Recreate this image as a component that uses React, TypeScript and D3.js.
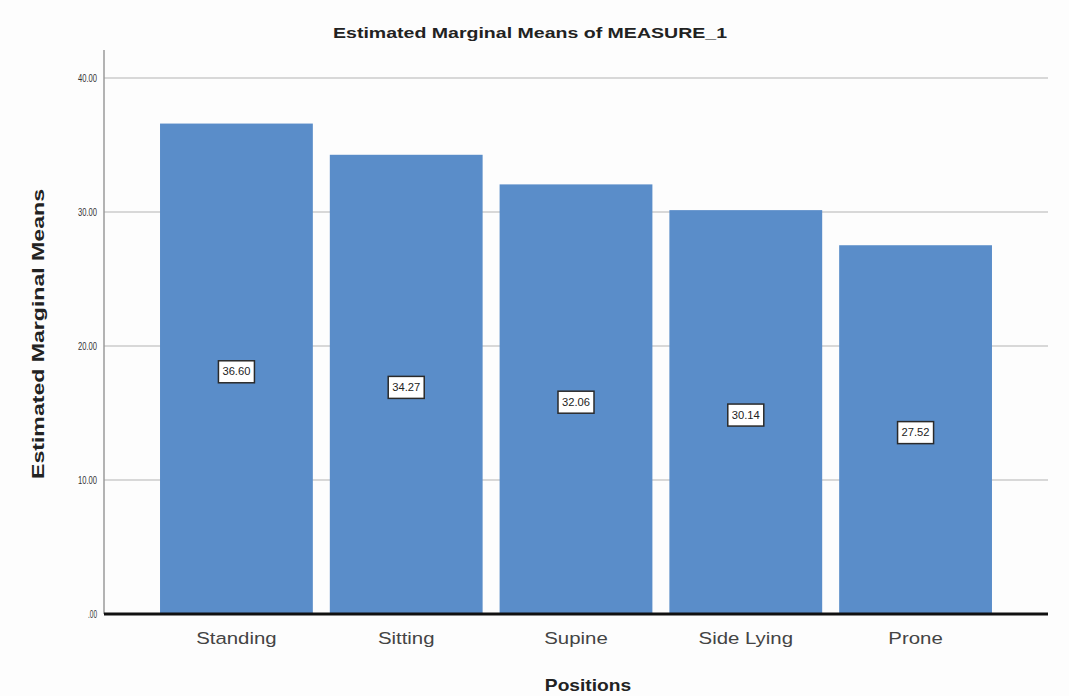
import React from 'react';
import * as d3 from 'd3';

const positions = ['Standing', 'Sitting', 'Supine', 'Side Lying', 'Prone'];
const means = [36.6, 34.27, 32.06, 30.14, 27.52];
const meanLabels = ['36.60', '34.27', '32.06', '30.14', '27.52'];
const yTicks = [0, 10, 20, 30, 40];
const yTickLabels = ['.00', '10.00', '20.00', '30.00', '40.00'];

const W = 1069;
const H = 696;
const margin = { top: 50, right: 21, bottom: 82, left: 104 };

const App: React.FC = () => {
  const x = d3.scaleBand<string>()
    .domain(positions)
    .range([margin.left, W - margin.right])
    .paddingInner(0.1)
    .paddingOuter(0.33);

  const y = d3.scaleLinear()
    .domain([0, 40])
    .range([H - margin.bottom, 78]);

  const font = '"Liberation Sans", Arial, sans-serif';

  return (
    <svg width={W} height={H} style={{ position: 'absolute', left: 0, top: 0, background: '#fdfdfd' }}>
      <text x={530} y={38} textAnchor="middle" fontFamily={font} fontWeight="bold" fontSize={15}
        textLength={394} lengthAdjust="spacingAndGlyphs" fill="#222">
        Estimated Marginal Means of MEASURE_1
      </text>

      {/* gridlines */}
      {yTicks.filter(t => t > 0).map(t => (
        <line key={t} x1={margin.left} x2={W - margin.right} y1={y(t)} y2={y(t)}
          stroke="#d8d8d8" strokeWidth={2} />
      ))}

      {/* y axis line */}
      <line x1={margin.left} x2={margin.left} y1={margin.top} y2={y(0)} stroke="#9a9a9a" strokeWidth={1.5} />

      {yTicks.map((t, i) => (
        <text key={t} x={97} y={y(t)} dy="0.35em" textAnchor="end" fontFamily={font}
          fontSize={10} fill="#333" textLength={t === 0 ? 9 : 19} lengthAdjust="spacingAndGlyphs">
          {yTickLabels[i]}
        </text>
      ))}

      {/* bars */}
      {positions.map((p, i) => (
        <rect key={p} x={x(p)} y={y(means[i])} width={x.bandwidth()} height={y(0) - y(means[i])}
          fill="#5a8dc9" />
      ))}

      {/* value labels */}
      {positions.map((p, i) => {
        const cx = (x(p) ?? 0) + x.bandwidth() / 2;
        const cy = (y(means[i]) + y(0)) / 2 + 3;
        return (
          <g key={p}>
            <rect x={cx - 18} y={cy - 11} width={36} height={22} fill="#fff" stroke="#2a2a2a" strokeWidth={1.5} />
            <text x={cx} y={cy} dy="0.35em" textAnchor="middle" fontFamily={font} fontSize={10}
              fill="#222" textLength={28} lengthAdjust="spacingAndGlyphs">
              {meanLabels[i]}
            </text>
          </g>
        );
      })}

      {/* x axis line */}
      <line x1={margin.left} x2={W - margin.right} y1={y(0)} y2={y(0)} stroke="#111" strokeWidth={3} />

      {positions.map(p => (
        <text key={p} transform={`translate(${(x(p) ?? 0) + x.bandwidth() / 2},644) scale(1.2,1)`}
          textAnchor="middle" fontFamily={font} fontSize={17} fill="#444">
          {p}
        </text>
      ))}

      <text transform="translate(588,691) scale(1.2,1)" textAnchor="middle" fontFamily={font}
        fontWeight="bold" fontSize={16} fill="#222">
        Positions
      </text>

      <text transform={`translate(44,${334}) rotate(-90)`} textAnchor="middle" fontFamily={font}
        fontWeight="bold" fontSize={17} fill="#222" textLength={290} lengthAdjust="spacingAndGlyphs">
        Estimated Marginal Means
      </text>
    </svg>
  );
};

export default App;
